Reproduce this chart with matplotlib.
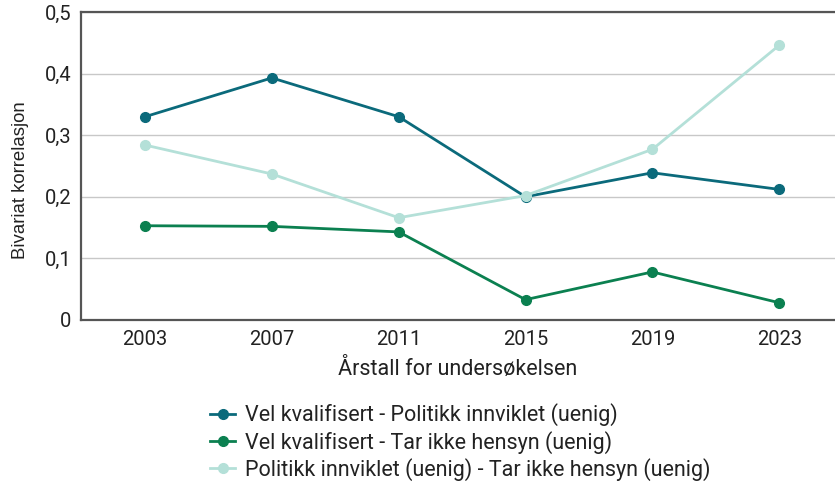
import numpy as np
import matplotlib.pyplot as plt
from matplotlib.ticker import FuncFormatter

plt.rcParams["font.family"] = ["Roboto", "DejaVu Sans"]

years = ["2003", "2007", "2011", "2015", "2019", "2023"]
vel_politikk = [0.330, 0.393, 0.330, 0.200, 0.239, 0.212]
vel_hensyn = [0.153, 0.152, 0.143, 0.033, 0.078, 0.028]
politikk_hensyn = [0.284, 0.237, 0.166, 0.202, 0.277, 0.446]

series = [
    ("Vel kvalifisert - Politikk innviklet (uenig)", vel_politikk, "#0b6a7b"),
    ("Vel kvalifisert - Tar ikke hensyn (uenig)", vel_hensyn, "#0b8050"),
    ("Politikk innviklet (uenig) - Tar ikke hensyn (uenig)", politikk_hensyn, "#b4e0d8"),
]

fig = plt.figure(figsize=(8.35, 4.86), dpi=100)
ax = fig.add_axes([0.097, 0.3416, 0.903, 0.6337])

x = np.arange(len(years))
for label, vals, color in series:
    ax.plot(x, vals, color=color, linewidth=2.0, marker="o", markersize=7,
            label=label, zorder=3)

ax.set_xlim(-0.505, len(years) - 0.56)
ax.set_ylim(0, 0.5)
ax.set_xticks(x)
ax.set_xticklabels(years)
ax.set_yticks([0, 0.1, 0.2, 0.3, 0.4, 0.5])
ax.yaxis.set_major_formatter(FuncFormatter(
    lambda v, _: "0" if abs(v) < 1e-9 else f"{v:.1f}".replace(".", ",")))

ax.grid(axis="y", color="#c8c8c8", linewidth=1.0, zorder=0)
ax.set_axisbelow(True)
for side in ["right", "top"]:
    ax.spines[side].set_visible(False)
for side in ["left", "bottom"]:
    ax.spines[side].set_color("#555555")
    ax.spines[side].set_linewidth(1.6)
# darker line along the 0,5 level
ax.axhline(0.5, color="#555555", linewidth=1.6, zorder=1, clip_on=False)

ax.tick_params(axis="both", length=0, labelsize=14.5, colors="#222222", pad=7)
ax.set_xlabel("Årstall for undersøkelsen", fontsize=15.5, color="#222222", labelpad=7)
ax.set_ylabel("Bivariat korrelasjon", fontsize=13.4, color="#222222", labelpad=11,
              family=["Liberation Sans", "DejaVu Sans"])
ax.yaxis.label.set_y(0.455)

fig.legend(loc="upper left", bbox_to_anchor=(0.251, 0.17), frameon=False,
           fontsize=15.5, handlelength=1.2, handletextpad=0.45, labelspacing=0.2,
           borderaxespad=0, borderpad=0, labelcolor="#222222")

fig.savefig("out.png", dpi=100)
